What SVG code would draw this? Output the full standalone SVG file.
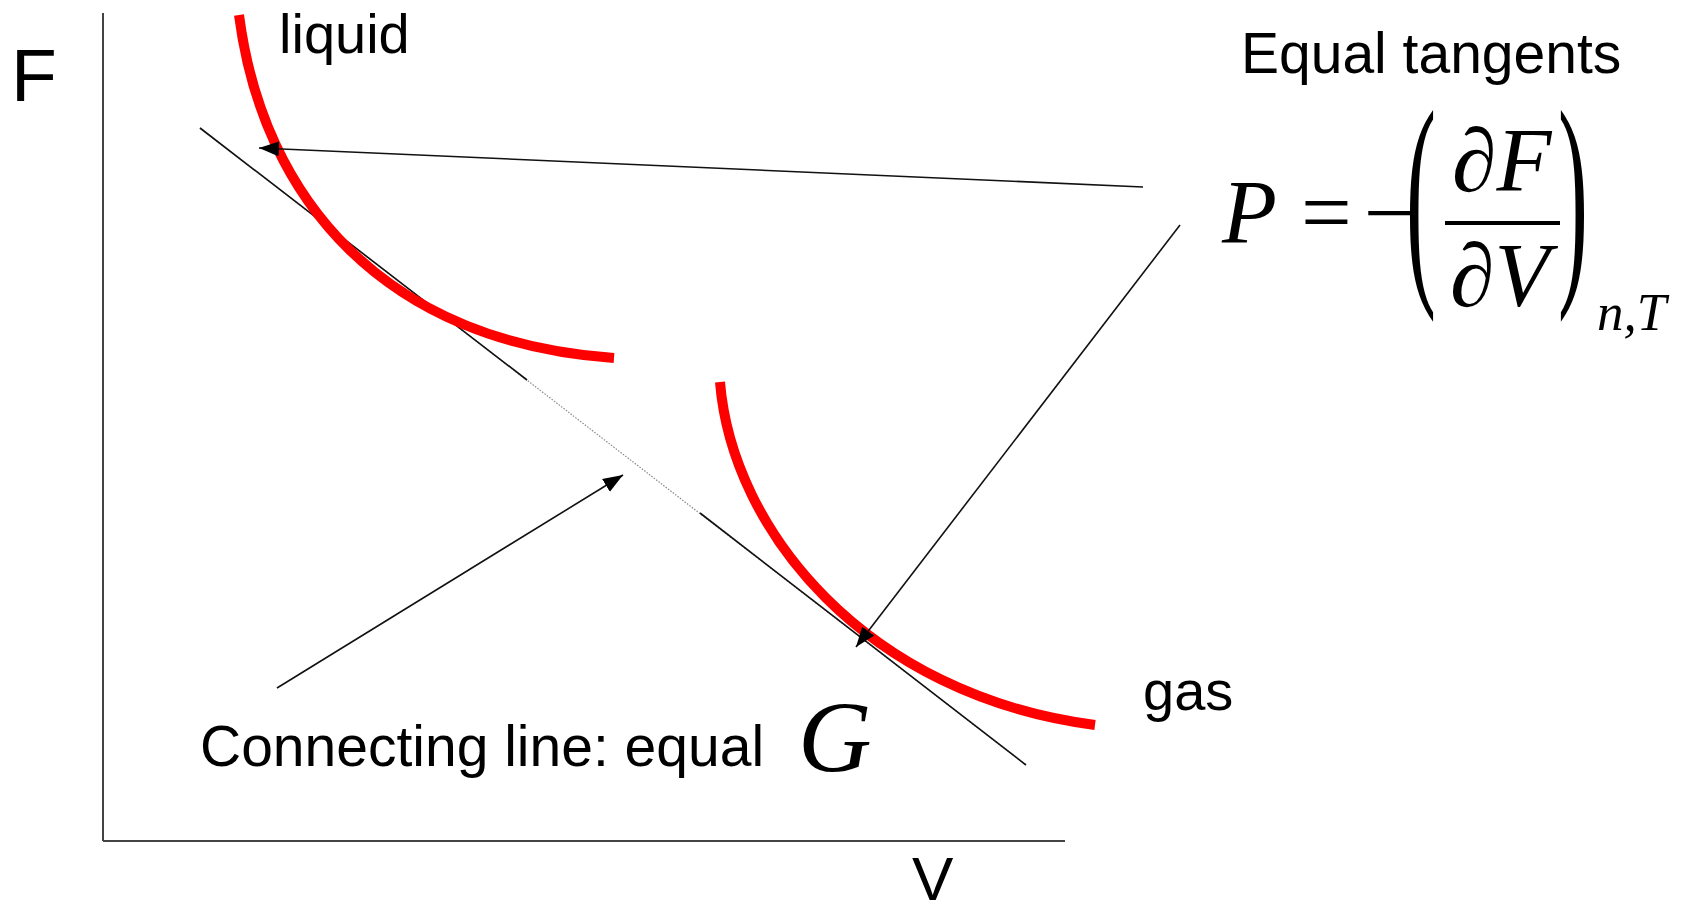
<svg xmlns="http://www.w3.org/2000/svg" width="1687" height="901" viewBox="0 0 1687 901">
<style>
.sans{font-family:"Liberation Sans",Arial,sans-serif;fill:#000}
.serif{font-family:"Liberation Serif","Times New Roman",serif;fill:#000}
.it{font-style:italic}
.curve{fill:none;stroke:#ff0000;stroke-width:10}
.axis{stroke:#444;stroke-width:2;fill:none}
.thin{stroke:#111;stroke-width:1.6;fill:none}
</style>
<defs>
<marker id="arr" markerUnits="userSpaceOnUse" markerWidth="22" markerHeight="16" refX="20" refY="7.5" orient="auto">
<path d="M0,0 L20,7.5 L0,15 z" fill="#000"/>
</marker>
</defs>
<rect width="1687" height="901" fill="#fff"/>

<g id="axes">
<line class="axis" x1="103" y1="13" x2="103" y2="841"/>
<line class="axis" x1="103" y1="841" x2="1065" y2="841"/>
<text class="sans" x="11" y="101" font-size="75">F</text>
<text class="sans" x="912" y="900" font-size="62">V</text>
</g>

<g id="tangent">
<line x1="200" y1="128" x2="1026" y2="765" stroke="#888" stroke-width="1.2" stroke-dasharray="1.5 1.5"/>
<line class="thin" x1="200" y1="128" x2="527" y2="380"/>
<line class="thin" x1="700" y1="513" x2="1026" y2="765"/>
</g>

<g id="liquid">
<path class="curve" d="M239,15 C263,200 385,342 614,358"/>
<text class="sans" x="279" y="53" font-size="56">liquid</text>
</g>

<g id="gas">
<path class="curve" d="M720,382 C732,530 865,695 1095,725"/>
<text class="sans" x="1143" y="710" font-size="56">gas</text>
</g>

<g id="connecting-label">
<text class="sans" x="200" y="766" font-size="57">Connecting line: equal</text>
<text class="serif it" x="798" y="772" font-size="102">G</text>
</g>

<g id="equal-tangents">
<text class="sans" x="1241" y="73" font-size="57">Equal tangents</text>
<text class="serif it" x="1222" y="243" font-size="90">P</text>
<text class="serif" x="1301" y="243" font-size="90">=</text>
<text class="serif" x="1364" y="243" font-size="90">−</text>
<text class="serif" transform="translate(1406,272) scale(1,2.6)" font-size="90">(</text>
<text class="serif" x="1452" y="191" font-size="90">∂<tspan class="it">F</tspan></text>
<line x1="1445" y1="223" x2="1560" y2="223" stroke="#000" stroke-width="4"/>
<text class="serif" x="1450" y="306" font-size="90">∂<tspan class="it">V</tspan></text>
<text class="serif" transform="translate(1558,272) scale(1,2.6)" font-size="90">)</text>
<text class="serif it" x="1597" y="330" font-size="53">n,T</text>
</g>

<g id="connectors">
<line class="thin" x1="1143" y1="187" x2="259" y2="148" marker-end="url(#arr)"/>
<line class="thin" x1="1180" y1="225" x2="856" y2="647" marker-end="url(#arr)"/>
<line class="thin" x1="277" y1="688" x2="623" y2="475" marker-end="url(#arr)"/>
</g>
</svg>
